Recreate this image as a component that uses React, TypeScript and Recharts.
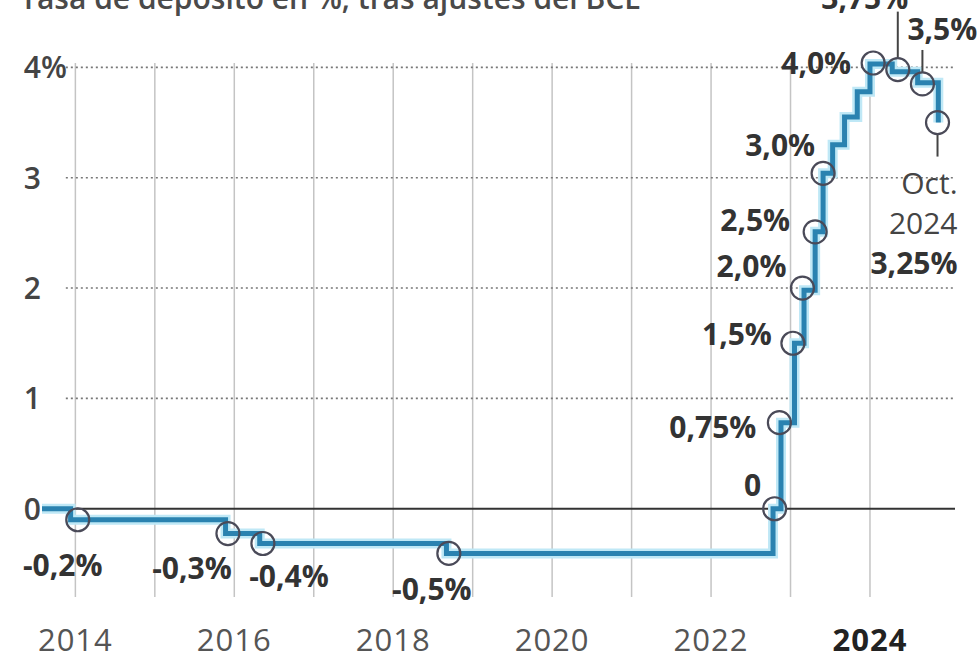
import React from 'react';
import {
  ComposedChart,
  Line,
  Scatter,
  XAxis,
  YAxis,
  ReferenceLine,
} from 'recharts';

// step line of the deposit rate (year, %)
const STEP_YEARS = [2013.58, 2013.94, 2015.89, 2016.32, 2018.67, 2022.78, 2022.88, 2023.05, 2023.17, 2023.31, 2023.41, 2023.53, 2023.68, 2023.84, 2024.0, 2024.28, 2024.6, 2024.86];
const STEP_RATES = [0, -0.1, -0.225, -0.315, -0.405, 0, 0.78, 1.5, 1.98, 2.51, 3.04, 3.3, 3.55, 3.78, 4.03, 3.96, 3.86, 3.5];

// marked decisions
const MARK_YEARS = [2014.03, 2015.92, 2016.36, 2018.7, 2022.8, 2022.86, 2023.03, 2023.15, 2023.31, 2023.41, 2024.04, 2024.35, 2024.66, 2024.85];
const MARK_RATES = [-0.1, -0.225, -0.315, -0.405, 0, 0.78, 1.5, 2.0, 2.51, 3.04, 4.04, 3.98, 3.85, 3.5];
const MARK_LABELS = ['-0,2%', '-0,3%', '-0,4%', '-0,5%', '0', '0,75%', '1,5%', '2,0%', '2,5%', '3,0%', '4,0%', '3,75%', '3,5%', '3,25%'];

const GRID_YEARS = [2014, 2015, 2016, 2017, 2018, 2019, 2020, 2021, 2022, 2023, 2024];
const TICK_YEARS = [2014, 2016, 2018, 2020, 2022, 2024];
const Y_TICKS = [0, 1, 2, 3, 4];
const DOTTED_LEVELS = [1, 2, 3, 4];

const TITLE = 'Tasa de depósito en %, tras ajustes del BCE';

// label placement relative to each circle (pixels)
type Place = { dx: number; dy: number; anchor: 'start' | 'middle' | 'end'; leader?: [number, number]; pre?: string[] };
const LABEL_PLACE: Place[] = [
  { dx: -15, dy: 45, anchor: 'middle' },
  { dx: -36, dy: 34, anchor: 'middle' },
  { dx: 26, dy: 33, anchor: 'middle' },
  { dx: -17, dy: 36, anchor: 'middle' },
  { dx: -22, dy: -24, anchor: 'middle' },
  { dx: -23, dy: 4, anchor: 'end' },
  { dx: -21, dy: -9, anchor: 'end' },
  { dx: -16, dy: -22, anchor: 'end' },
  { dx: -25, dy: -12, anchor: 'end' },
  { dx: -8, dy: -28, anchor: 'end' },
  { dx: -22, dy: 0, anchor: 'end' },
  { dx: -33, dy: -72, anchor: 'middle', leader: [-12, -58] },
  { dx: -15, dy: -55, anchor: 'start', leader: [-12, -34] },
  { dx: 20, dy: 140, anchor: 'end', leader: [12, 34], pre: ['Oct.', '2024'] },
];

const FONT = '"Open Sans", "Noto Sans", sans-serif';
const BLUE = '#2a82b0';
const HALO = '#bfe8f6';

const stepData = STEP_YEARS.map((x, i) => ({ x, y: STEP_RATES[i] }));
const markData = MARK_YEARS.map((x, i) => ({ x, y: MARK_RATES[i], i }));

function XTick(props: any) {
  const { x, y, payload } = props;
  const bold = payload.value === 2024;
  return (
    <text
      x={x}
      y={y + 54}
      textAnchor="middle"
      fontFamily={FONT}
      fontSize={31}
      letterSpacing={1}
      fontWeight={bold ? 700 : 400}
      fill={bold ? '#222' : '#555'}
    >
      {payload.value}
    </text>
  );
}

function YTick(props: any) {
  const { y, payload } = props;
  return (
    <g>
      <text x={41} y={y} dy={11} textAnchor="end" fontFamily={FONT} fontSize={30} fontWeight={600} fill="#444">
        {payload.value}
      </text>
      {payload.value === 4 && (
        <text x={41} y={y} dy={11} textAnchor="start" fontFamily={FONT} fontSize={30} fontWeight={600} fill="#444">
          %
        </text>
      )}
    </g>
  );
}

function Mark(props: any) {
  const { cx, cy, payload } = props;
  const p = LABEL_PLACE[payload.i];
  const lx = cx + p.dx;
  const ly = cy + p.dy;
  return (
    <g>
      {p.leader && (
        <line x1={cx} y1={cy + p.leader[0]} x2={cx} y2={cy + p.leader[1]} stroke="#444" strokeWidth={2} />
      )}
      <circle cx={cx} cy={cy} r={11.5} fill="none" stroke="#4a4a58" strokeWidth={2.2} />
      {p.pre &&
        p.pre.map((t, k) => (
          <text
            key={t}
            x={lx}
            y={ly - (p.pre!.length - k) * 40 + 11}
            textAnchor={p.anchor}
            fontFamily={FONT}
            fontSize={30}
            fill="#444"
          >
            {t}
          </text>
        ))}
      <text x={lx} y={ly + 11} textAnchor={p.anchor} fontFamily={FONT} fontSize={30} fontWeight={700} fill="#333">
        {MARK_LABELS[payload.i]}
      </text>
    </g>
  );
}

export default function App() {
  return (
    <div style={{ position: 'absolute', left: 0, top: 0, width: 978, height: 654, background: '#fff', overflow: 'hidden' }}>
      <svg width={978} height={40} style={{ position: 'absolute', left: 0, top: 0 }}>
        <text x={20} y={9} fontFamily={FONT} fontSize={30} fontWeight={600} fill="#4a4a4a">
          {TITLE}
        </text>
      </svg>
      <ComposedChart
        width={978}
        height={654}
        margin={{ top: 63, right: 23, bottom: 3, left: 0 }}
        style={{ position: 'absolute', left: 0, top: 0, overflow: 'visible' }}
      >
        <XAxis
          type="number"
          dataKey="x"
          domain={[2013.58, 2025.07]}
          ticks={TICK_YEARS}
          axisLine={false}
          tickLine={false}
          tickSize={0}
          tickMargin={0}
          height={54}
          tick={<XTick />}
        />
        <YAxis
          type="number"
          dataKey="y"
          domain={[-0.8, 4]}
          ticks={Y_TICKS}
          axisLine={false}
          tickLine={false}
          tickSize={0}
          tickMargin={0}
          width={42}
          tick={<YTick />}
        />
        {GRID_YEARS.map((yr) => (
          <ReferenceLine key={yr} x={yr} stroke="#c4c4c4" strokeWidth={1.5} />
        ))}
        {DOTTED_LEVELS.map((v) => (
          <ReferenceLine
            key={v}
            segment={[{ x: 2013.88, y: v }, { x: 2025.07, y: v }]}
            stroke="#777"
            strokeWidth={1.6}
            strokeDasharray="2 3"
          />
        ))}
        <ReferenceLine y={0} stroke="#333" strokeWidth={2} />
        <Line
          data={stepData}
          dataKey="y"
          type="stepAfter"
          stroke={HALO}
          strokeWidth={10}
          dot={false}
          activeDot={false}
          isAnimationActive={false}
        />
        <Line
          data={stepData}
          dataKey="y"
          type="stepAfter"
          stroke={BLUE}
          strokeWidth={5}
          dot={false}
          activeDot={false}
          isAnimationActive={false}
        />
        <Scatter data={markData} dataKey="y" shape={<Mark />} isAnimationActive={false} />
      </ComposedChart>
    </div>
  );
}
